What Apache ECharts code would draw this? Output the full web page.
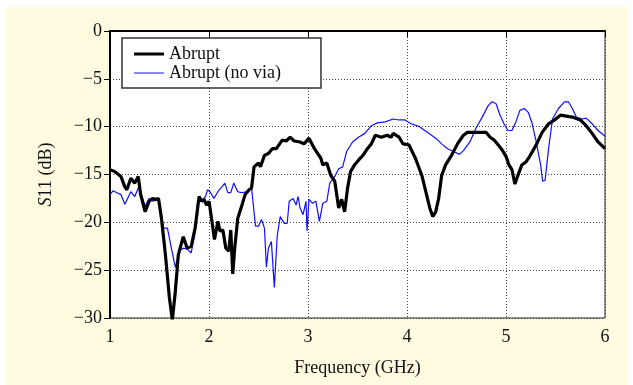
<!DOCTYPE html>
<html>
<head>
<meta charset="utf-8">
<script src="https://cdn.jsdelivr.net/npm/echarts@6/dist/echarts.min.js"></script>
<style>
  html, body { margin: 0; padding: 0; background: #fff; }
  #main { width: 633px; height: 385px; }
</style>
</head>
<body>
<div id="main"></div>
<script>
// S11 readings, frequency in GHz, S11 in dB
var abruptFreq = [1.0, 1.05, 1.11, 1.15, 1.17, 1.21, 1.25, 1.285, 1.31, 1.355, 1.395, 1.43, 1.46, 1.49, 1.52, 1.56, 1.6, 1.63, 1.66, 1.69, 1.74, 1.78, 1.82, 1.86, 1.9, 1.925, 1.95, 1.975, 2.0, 2.03, 2.055, 2.09, 2.11, 2.14, 2.17, 2.2, 2.22, 2.24, 2.26, 2.29, 2.33, 2.365, 2.405, 2.43, 2.455, 2.5, 2.52, 2.56, 2.6, 2.64, 2.68, 2.74, 2.78, 2.82, 2.86, 2.92, 2.96, 3.01, 3.065, 3.13, 3.15, 3.19, 3.23, 3.27, 3.31, 3.34, 3.37, 3.4, 3.43, 3.47, 3.51, 3.555, 3.6, 3.64, 3.68, 3.74, 3.8, 3.84, 3.86, 3.92, 3.96, 4.02, 4.085, 4.15, 4.19, 4.23, 4.26, 4.29, 4.32, 4.35, 4.39, 4.45, 4.51, 4.57, 4.61, 4.675, 4.76, 4.8, 4.84, 4.88, 4.92, 4.965, 5.0, 5.03, 5.06, 5.09, 5.12, 5.16, 5.2, 5.24, 5.305, 5.365, 5.43, 5.49, 5.55, 5.61, 5.67, 5.75, 5.81, 5.87, 5.93, 6.0];
var abruptS11 = [-14.5, -14.7, -15.2, -16.3, -16.6, -15.4, -15.9, -15.2, -17.1, -18.9, -17.8, -17.5, -17.6, -17.5, -19.6, -23.4, -27.9, -30.2, -27.2, -23.4, -21.5, -22.7, -22.5, -20.6, -17.3, -17.8, -17.6, -18.2, -17.8, -19.9, -21.8, -19.9, -20.9, -20.8, -22.7, -23.0, -20.8, -25.4, -22.7, -19.6, -18.3, -17.1, -16.6, -16.4, -14.2, -13.8, -14.2, -13.0, -12.8, -12.3, -12.3, -11.4, -11.5, -11.1, -11.5, -11.6, -11.8, -11.2, -12.3, -13.3, -14.0, -13.8, -15.1, -15.7, -18.5, -17.6, -18.9, -16.4, -14.7, -14.0, -13.5, -13.0, -12.3, -11.8, -10.9, -11.1, -10.9, -11.1, -10.7, -11.1, -11.8, -11.9, -13.3, -15.1, -16.8, -18.5, -19.4, -18.9, -17.5, -15.1, -14.0, -13.0, -11.8, -10.9, -10.6, -10.6, -10.6, -10.6, -11.1, -11.4, -11.9, -12.5, -13.1, -14.0, -14.5, -16.0, -15.1, -14.0, -13.7, -13.1, -11.9, -10.6, -9.7, -9.3, -8.8, -8.9, -9.0, -9.3, -9.9, -10.7, -11.6, -12.3];

var noViaFreq = [1.0, 1.03, 1.07, 1.11, 1.15, 1.17, 1.21, 1.25, 1.29, 1.33, 1.355, 1.395, 1.435, 1.47, 1.5, 1.54, 1.58, 1.62, 1.66, 1.7, 1.74, 1.78, 1.82, 1.855, 1.885, 1.925, 1.965, 1.985, 2.01, 2.05, 2.09, 2.13, 2.16, 2.19, 2.22, 2.25, 2.29, 2.33, 2.39, 2.43, 2.47, 2.5, 2.53, 2.56, 2.58, 2.6, 2.63, 2.66, 2.69, 2.72, 2.76, 2.79, 2.81, 2.85, 2.88, 2.9, 2.92, 2.95, 2.98, 2.99, 3.01, 3.045, 3.08, 3.115, 3.15, 3.19, 3.22, 3.27, 3.31, 3.35, 3.39, 3.45, 3.51, 3.575, 3.64, 3.7, 3.78, 3.86, 3.92, 3.98, 4.04, 4.125, 4.21, 4.29, 4.35, 4.41, 4.47, 4.53, 4.57, 4.635, 4.695, 4.76, 4.82, 4.86, 4.9, 4.94, 4.98, 5.02, 5.06, 5.1, 5.14, 5.185, 5.225, 5.265, 5.305, 5.35, 5.37, 5.395, 5.43, 5.47, 5.53, 5.59, 5.63, 5.67, 5.71, 5.77, 5.81, 5.87, 5.93, 6.0];
var noViaS11 = [-17.1, -16.7, -16.9, -17.1, -18.1, -18.2, -16.8, -17.3, -16.3, -17.5, -18.3, -17.5, -17.8, -17.6, -18.0, -20.6, -20.6, -22.7, -24.7, -23.0, -22.7, -22.8, -23.2, -21.3, -17.8, -17.8, -17.3, -16.6, -16.8, -17.5, -16.8, -16.3, -15.9, -16.9, -16.9, -15.9, -16.8, -16.9, -16.8, -16.4, -20.4, -20.4, -19.7, -20.6, -24.7, -22.7, -22.0, -26.8, -21.3, -19.4, -20.1, -20.1, -17.8, -17.5, -18.2, -17.3, -18.5, -19.2, -17.8, -20.9, -17.6, -18.0, -17.8, -19.9, -18.0, -17.8, -15.9, -15.2, -14.4, -14.2, -12.6, -11.6, -11.1, -10.7, -9.9, -9.6, -9.5, -9.2, -9.3, -9.3, -9.7, -10.0, -10.6, -11.2, -11.8, -12.3, -12.6, -12.9, -12.5, -11.6, -10.2, -9.0, -7.8, -7.4, -7.6, -8.8, -9.7, -10.4, -10.4, -9.5, -8.3, -8.1, -8.5, -9.7, -11.6, -14.0, -15.7, -15.6, -12.3, -9.2, -8.1, -7.4, -7.4, -8.1, -9.0, -9.2, -9.1, -9.7, -10.4, -11.0];

var xTicks = [1, 2, 3, 4, 5, 6];
var yTicks = [0, -5, -10, -15, -20, -25, -30];

function zip(a, b) {
  var out = [];
  for (var i = 0; i < a.length; i++) out.push([a[i], b[i]]);
  return out;
}

var serif = '"Liberation Serif", "DejaVu Serif", serif';
var chart = echarts.init(document.getElementById('main'));
var option = {
  animation: false,
  textStyle: { fontFamily: serif },
  graphic: [{
    type: 'rect', z: -10,
    shape: { x: 6, y: 7, width: 621, height: 378 },
    style: { fill: '#fefbe0' }
  }],
  grid: {
    left: 110, right: 28, top: 31, bottom: 67,
    show: true, backgroundColor: '#fff', borderColor: '#222', borderWidth: 1
  },
  legend: {
    orient: 'vertical', left: 122, top: 38,
    backgroundColor: '#fff', borderColor: '#333', borderWidth: 1.5,
    padding: [7, 40, 6, 12], itemGap: 1,
    itemWidth: 30, itemHeight: 18,
    textStyle: { fontFamily: serif, fontSize: 18, color: '#111' },
    data: [
      { name: 'Abrupt', icon: 'path://M0,7.5 L30,7.5 L30,10.5 L0,10.5 Z', itemStyle: { color: '#000' } },
      { name: 'Abrupt (no via)', icon: 'path://M0,0 L0.01,0 L0.01,0.01 Z M0,8.5 L30,8.5 L30,9.5 L0,9.5 Z M29.99,17.99 L30,18 L29.99,18 Z', itemStyle: { color: '#1010ff' } }
    ]
  },
  xAxis: {
    type: 'value', min: 1, max: 6, interval: 1,
    name: 'Frequency (GHz)', nameLocation: 'middle', nameGap: 41,
    nameTextStyle: { fontFamily: serif, fontSize: 18, color: '#111' },
    axisLine: { show: true, lineStyle: { color: '#000', width: 2 } },
    axisTick: { show: true, inside: false, length: 6, lineStyle: { color: '#000' } },
    axisLabel: { fontFamily: serif, fontSize: 18, color: '#111', margin: 10,
      formatter: function (v) { return xTicks.indexOf(v) >= 0 ? String(v) : ''; } },
    splitLine: { show: true, lineStyle: { color: '#444', type: [1, 2], width: 1 } }
  },
  yAxis: {
    type: 'value', min: -30, max: 0, interval: 5,
    name: '{i|S}11 (dB)', nameLocation: 'middle', nameGap: 55, nameRotate: 90,
    nameTextStyle: { fontFamily: serif, fontSize: 18, color: '#111',
      rich: { i: { fontFamily: serif, fontSize: 18, fontStyle: 'italic', color: '#111' } } },
    axisLine: { show: true, lineStyle: { color: '#000', width: 2 } },
    axisTick: { show: true, inside: false, length: 6, lineStyle: { color: '#000' } },
    axisLabel: { fontFamily: serif, fontSize: 18, color: '#111', margin: 8,
      formatter: function (v) { return yTicks.indexOf(v) >= 0 ? String(v).replace('-', '\u2212') : ''; } },
    splitLine: { show: true, lineStyle: { color: '#444', type: [1, 2], width: 1 } }
  },
  series: [
    {
      name: 'Abrupt', type: 'line', data: zip(abruptFreq, abruptS11),
      showSymbol: false, symbol: 'none', z: 3,
      lineStyle: { color: '#000', width: 3.2 }, itemStyle: { color: '#000' }
    },
    {
      name: 'Abrupt (no via)', type: 'line', data: zip(noViaFreq, noViaS11),
      showSymbol: false, symbol: 'none', z: 2,
      lineStyle: { color: '#1010ff', width: 1.2 }, itemStyle: { color: '#1010ff' }
    }
  ]
};
chart.setOption(option);
</script>
</body>
</html>
